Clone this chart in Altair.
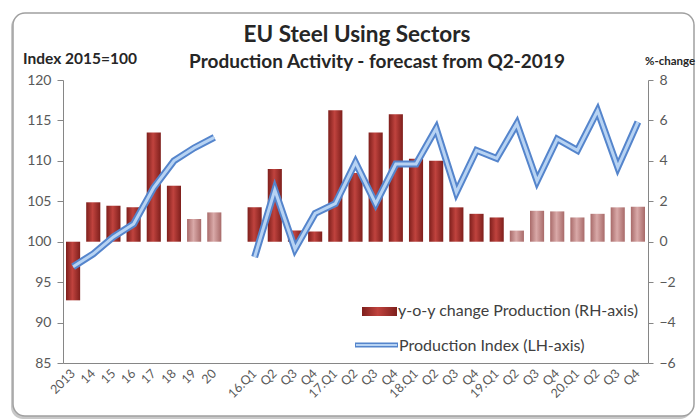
import altair as alt
import pandas as pd

# ---- data ----
labels = ["2013", "14", "15", "16", "17", "18", "19", "20", "",
          "16.Q1", "Q2", "Q3", "Q4", "17.Q1", "Q2", "Q3", "Q4",
          "18.Q1", "Q2", "Q3", "Q4", "19.Q1", "Q2", "Q3", "Q4",
          "20.Q1", "Q2", "Q3", "Q4"]
group = ["annual"] * 8 + ["gap"] + ["quarterly"] * 20
yoy_change = [-2.9, 1.95, 1.78, 1.7, 5.4, 2.77, 1.12, 1.45, None,
              1.7, 3.6, 0.55, 0.5, 6.5, 3.4, 5.4, 6.3,
              4.1, 4.0, 1.7, 1.38, 1.2, 0.55, 1.53, 1.5,
              1.2, 1.38, 1.7, 1.73]
prod_index = [96.9, 98.5, 100.6, 102.2, 106.7, 110.0, 111.6, 112.9, None,
              98.1, 106.4, 99.1, 103.5, 104.7, 109.8, 104.7, 109.6,
              109.6, 114.0, 106.1, 111.3, 110.3, 114.6, 107.5, 112.7,
              111.3, 116.2, 109.2, 114.8]
forecast = [False] * 6 + [True, True] + [False] + [False] * 13 + [True] * 7

df = pd.DataFrame({
    "i": list(range(len(labels))),
    "grp": group,
    "pct": yoy_change,
    "idx": prod_index,
    "fc": forecast,
})
bars = df[df["pct"].notna()]
lines = df[df["idx"].notna()]

FONT = "Lato"
label_arr = "[" + ",".join("'" + l + "'" for l in labels) + "]"

x_enc = alt.X(
    "i:O",
    scale=alt.Scale(domain=list(range(len(labels))), paddingInner=0.3, paddingOuter=0.15),
    axis=alt.Axis(
        title=None, labelExpr=label_arr + "[datum.value]", labelAngle=-45,
        labelAlign="right", labelBaseline="middle", ticks=False,
        labelFont=FONT, labelFontSize=12.5, labelColor="#595959",
        domainColor="#868686", labelPadding=8, zindex=2,
    ),
)

right_axis = alt.Axis(
    orient="right", title=None, values=[-6, -4, -2, 0, 2, 4, 6, 8], grid=False,
    labelFont=FONT, labelFontSize=14, labelColor="#595959", domainColor="#868686",
    tickColor="#868686", tickSize=5, labelPadding=6, zindex=2,
)
left_axis = alt.Axis(
    orient="left", title=None, values=[85, 90, 95, 100, 105, 110, 115, 120], grid=False,
    labelFont=FONT, labelFontSize=14, labelColor="#595959", domainColor="#868686",
    tickColor="#868686", tickSize=6, labelPadding=6, zindex=2,
)
pct_scale = alt.Scale(domain=[-6, 8], nice=False)
idx_scale = alt.Scale(domain=[85, 120], nice=False)


def grad(c_edge, c_mid):
    return alt.LinearGradient(
        gradient="linear", x1=0, x2=1, y1=0, y2=0,
        stops=[alt.GradientStop(color=c_edge, offset=0),
               alt.GradientStop(color=c_mid, offset=0.45),
               alt.GradientStop(color=c_edge, offset=1)],
    )


one = pd.DataFrame({"a": [0]})

shadow = alt.Chart(one).mark_rect(cornerRadius=12, fill="#c8c8c8").encode(
    x=alt.value(-52), x2=alt.value(629), y=alt.value(-65), y2=alt.value(339))
frame = alt.Chart(one).mark_rect(cornerRadius=12, fill="white", stroke="#a0a0a0",
                                 strokeWidth=1.5).encode(
    x=alt.value(-50), x2=alt.value(631), y=alt.value(-67), y2=alt.value(336))

bar_dark = alt.Chart(bars).transform_filter("!datum.fc").mark_bar(
    color=grad("#7e1f1c", "#c0433e")).encode(
    x=x_enc, y=alt.Y("pct:Q", scale=pct_scale, axis=right_axis))
bar_light = alt.Chart(bars).transform_filter("datum.fc").mark_bar(
    color=grad("#a86a69", "#d9a9a8")).encode(
    x=x_enc, y=alt.Y("pct:Q", scale=pct_scale, axis=None))

line_outer = alt.Chart(lines).mark_line(color="#5585cc", strokeWidth=7).encode(
    x=x_enc, y=alt.Y("idx:Q", scale=idx_scale, axis=left_axis), detail="grp:N")
line_inner = alt.Chart(lines).mark_line(color="#b7d3f3", strokeWidth=3).encode(
    x=x_enc, y=alt.Y("idx:Q", scale=idx_scale, axis=None), detail="grp:N")


def txt(s, x, y, size, bold=False, align="left", color="#262626"):
    return alt.Chart(one).mark_text(
        text=s, font=FONT, fontSize=size, fontWeight="bold" if bold else "normal",
        align=align, baseline="middle", color=color,
    ).encode(x=alt.value(x), y=alt.value(y))


leg_bar = alt.Chart(one).mark_rect(color=grad("#7e1f1c", "#c0433e")).encode(
    x=alt.value(299), x2=alt.value(334), y=alt.value(227), y2=alt.value(236))
leg_line_o = alt.Chart(one).mark_rule(color="#5585cc", strokeWidth=5).encode(
    x=alt.value(292), x2=alt.value(335), y=alt.value(265))
leg_line_i = alt.Chart(one).mark_rule(color="#b7d3f3", strokeWidth=2).encode(
    x=alt.value(293), x2=alt.value(334), y=alt.value(265))

chart = alt.layer(
    shadow, frame,
    bar_dark, bar_light, line_outer, line_inner,
    leg_bar, leg_line_o, leg_line_i,
    txt("y-o-y change Production (RH-axis)", 335, 231, 16, color="#404040"),
    txt("Production Index (LH-axis)", 336, 266, 16, color="#404040"),
    txt("EU Steel Using Sectors", 294, -45, 22.5, bold=True, align="center"),
    txt("Production Activity - forecast from Q2-2019", 314, -18, 19, bold=True, align="center"),
    txt("Index 2015=100", -40, -21, 15.5, bold=True),
    txt("%-change", 582, -18, 11.5, bold=True),
).resolve_scale(y="independent").properties(
    width=585, height=283,
    autosize="none",
    padding={"left": 63, "top": 80, "right": 49, "bottom": 56},
    background="white",
).configure_view(stroke=None)

chart.save("out.html", embed_options={"renderer": "svg", "actions": False})
